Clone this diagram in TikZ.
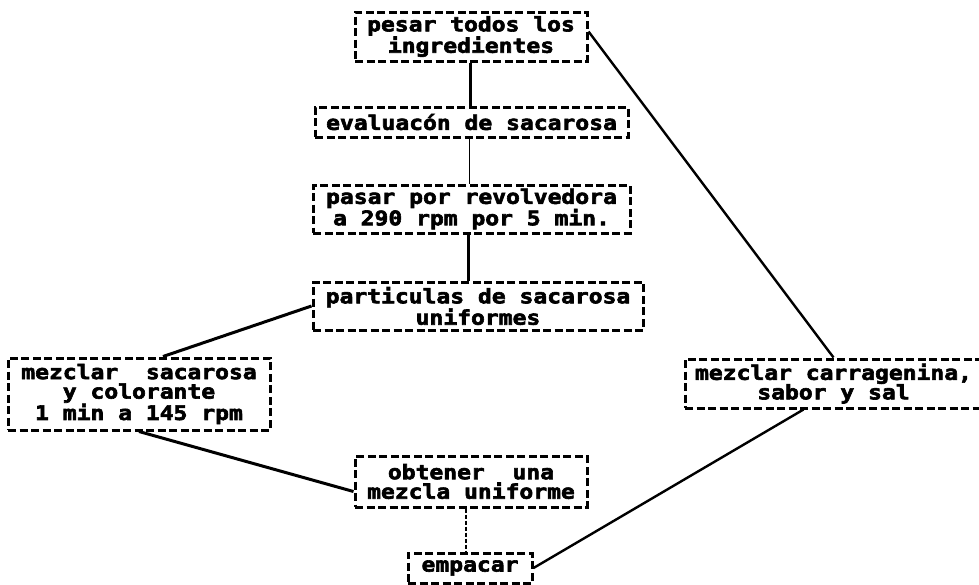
\documentclass[tikz,border=0pt]{standalone}
\usepackage{fontspec}
\newfontfamily\dotfont[FakeStretch=1.15,FakeBold=3]{DejaVu Sans Mono Bold}
\begin{document}
\begin{tikzpicture}[x=1pt,y=-1pt,
  box/.style={draw=black, line width=3pt, dash pattern=on 8pt off 3.5pt,
    inner sep=0pt, align=center, font=\dotfont\fontsize{20}{19.5}\selectfont},
  link/.style={draw=black, line width=3pt},
  midlink/.style={draw=black, line width=2.4pt},
  thinlink/.style={draw=black, line width=1.4pt},
  dashlink/.style={draw=black, line width=1.4pt, dash pattern=on 4pt off 2pt}]
\useasboundingbox[fill=white] (0,0) rectangle (979,584);
\node[box, minimum width=232pt, minimum height=49pt] (b1) at (471,36.5) {pesar todos los\\ingredientes};
\node[box, minimum width=313pt, minimum height=30pt] (b2) at (471.5,122) {evaluacón de sacarosa};
\node[box, minimum width=317pt, minimum height=48pt] (b3) at (471.5,209) {pasar por revolvedora\\a 290 rpm por 5 min.};
\node[box, minimum width=330pt, minimum height=48pt] (b4) at (478,306) {particulas de sacarosa\\uniformes};
\node[box, minimum width=262pt, minimum height=72pt] (b5) at (139,394) {mezclar\ \ sacarosa\\y colorante\\1 min a 145 rpm};
\node[box, minimum width=232pt, minimum height=51pt] (b6) at (471,481.5) {obtener\ \ una\\mezcla uniforme};
\node[box, minimum width=124pt, minimum height=30pt] (b7) at (470,568) {empacar};
\node[box, minimum width=297pt, minimum height=49pt] (b8) at (833.5,383.5) {mezclar carragenina,\\sabor y sal};
\draw[link] ([xshift=-1pt]b1.south) -- ([xshift=-1pt]b1.south |- b2.north);
\draw[thinlink] ([xshift=-2pt]b2.south) -- ([xshift=-2pt]b2.south |- b3.north);
\draw[link] ([xshift=-3pt]b3.south) -- ([xshift=-3pt]b3.south |- b4.north);
\draw[link] (b4.west) -- ([xshift=24pt]b5.north);
\draw[link] (b5.south) -- ([yshift=-10pt]b6.west);
\draw[dashlink] ([xshift=-5pt]b6.south) -- ([xshift=-5pt]b6.south |- b7.north);
\draw[midlink] ([yshift=5pt]b1.east) -- (b8.north);
\draw[midlink] ([xshift=120pt]b8.south west) -- (b7.east);
\end{tikzpicture}
\end{document}
